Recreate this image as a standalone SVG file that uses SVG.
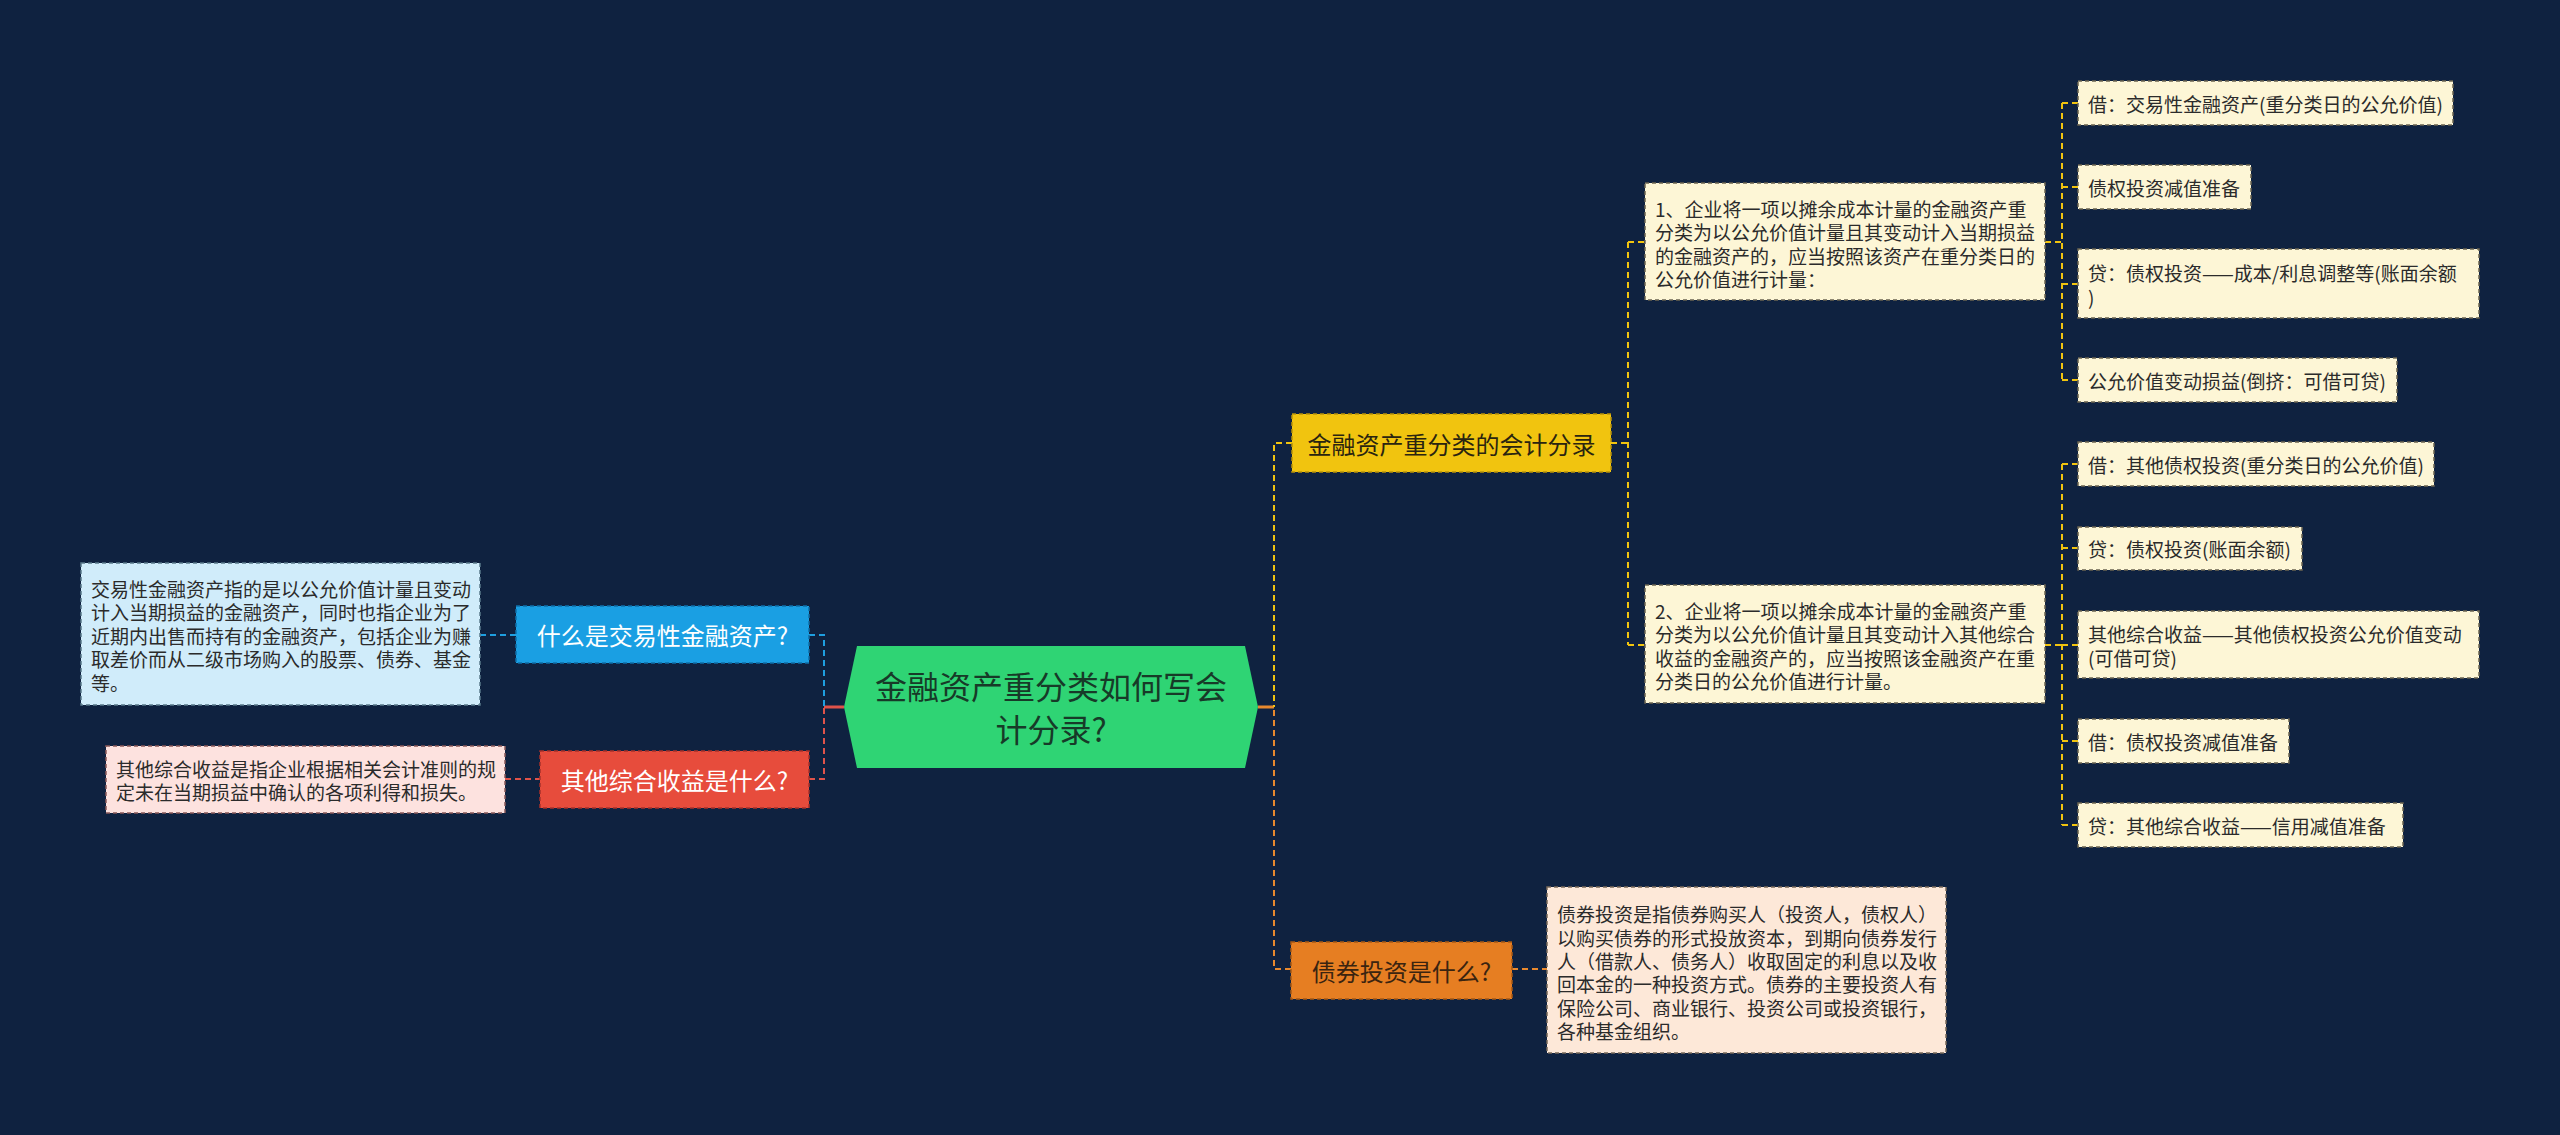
<svg xmlns="http://www.w3.org/2000/svg" width="2560" height="1135" viewBox="0 0 2560 1135">
<defs>
<style>
text{font-family:"Noto Sans CJK SC","Noto Sans",sans-serif;dominant-baseline:central}
.d{font-size:19px;fill:#2b2b2b}
.t{font-size:24px;text-anchor:middle}
.c{fill:none;stroke-width:2;stroke-dasharray:6 4}
.s{fill:none;stroke-width:3}
.cy{stroke:#f1c40f}.co{stroke:#e8892e}.cb{stroke:#1f9fe0}.cr{stroke:#e0534a}
.bx{stroke-width:1.5;stroke-dasharray:4 3}
.cream{fill:#fdf6d6;stroke:#6b6450}
</style>
</defs>
<rect width="2560" height="1135" fill="#0f2240"/>
<g id="connectors">
<path class="s" d="M844,707H824" stroke="#e0534a"/>
<path class="c cb" d="M809,635H824V707"/>
<path class="c cr" d="M809,779H824V707"/>
<path class="c cb" d="M480,635H516"/>
<path class="c cr" d="M505,779H540"/>
<path class="s" d="M1258,707H1274" stroke="#e8892e"/>
<path class="c cy" d="M1292,443H1274V707"/>
<path class="c co" d="M1291,969H1274V707"/>
<path class="c co" d="M1512,969H1547"/>
<path class="c cy" d="M1611,443H1628M1628,242V645M1628,242H1645M1628,645H1645"/>
<path class="c cy" d="M2045,242H2062M2062,103V380M2062,103H2078M2062,187H2078M2062,284H2078M2062,380H2078"/>
<path class="c cy" d="M2045,645H2062M2062,464V825M2062,464H2078M2062,548H2078M2062,645H2078M2062,741H2078M2062,825H2078"/>
</g>
<g id="center">
<polygon points="844,707 857,646 1245,646 1258,707 1245,768 857,768" fill="#2fd474"/>
<text x="1051" y="685" font-size="32" text-anchor="middle" fill="#173a28">金融资产重分类如何写会</text>
<text x="1051" y="728" font-size="32" text-anchor="middle" fill="#173a28">计分录?</text>
</g>
<g id="n-blue">
<rect class="bx" x="516" y="606" width="293" height="57" fill="#1a9fe3" stroke="#0f6fa8"/>
<text class="t" x="662.5" y="634.5" fill="#ffffff">什么是交易性金融资产?</text>
</g>
<g id="n-blue-desc">
<rect class="bx" x="81" y="563" width="399" height="142" fill="#d0ecfa" stroke="#5a7a8a"/>
<text class="d" x="91" y="588">交易性金融资产指的是以公允价值计量且变动</text>
<text class="d" x="91" y="611">计入当期损益的金融资产，同时也指企业为了</text>
<text class="d" x="91" y="635">近期内出售而持有的金融资产，包括企业为赚</text>
<text class="d" x="91" y="658">取差价而从二级市场购入的股票、债券、基金</text>
<text class="d" x="91" y="682">等。</text>
</g>
<g id="n-red">
<rect class="bx" x="540" y="751" width="269" height="57" fill="#e74c3c" stroke="#a8302a"/>
<text class="t" x="674.5" y="779.5" fill="#ffffff">其他综合收益是什么?</text>
</g>
<g id="n-red-desc">
<rect class="bx" x="106" y="746" width="399" height="67" fill="#fde2df" stroke="#8a5a5a"/>
<text class="d" x="116" y="768" fill="#3a1a1a">其他综合收益是指企业根据相关会计准则的规</text>
<text class="d" x="116" y="791" fill="#3a1a1a">定未在当期损益中确认的各项利得和损失。</text>
</g>
<g id="n-yellow">
<rect class="bx" x="1292" y="414" width="319" height="58" fill="#f1c40f" stroke="#b8920a"/>
<text class="t" x="1451.5" y="443" fill="#2a2410">金融资产重分类的会计分录</text>
</g>
<g id="n-orange">
<rect class="bx" x="1291" y="942" width="221" height="57" fill="#e67e22" stroke="#a85a15"/>
<text class="t" x="1401.5" y="970.5" fill="#3a2410">债券投资是什么?</text>
</g>
<g id="n-orange-desc">
<rect class="bx" x="1547" y="887" width="399" height="166" fill="#fde8d8" stroke="#7a6a5a"/>
<text class="d" x="1557" y="913">债券投资是指债券购买人（投资人，债权人）</text>
<text class="d" x="1557" y="937">以购买债券的形式投放资本，到期向债券发行</text>
<text class="d" x="1557" y="960">人（借款人、债务人）收取固定的利息以及收</text>
<text class="d" x="1557" y="983">回本金的一种投资方式。债券的主要投资人有</text>
<text class="d" x="1557" y="1007">保险公司、商业银行、投资公司或投资银行，</text>
<text class="d" x="1557" y="1030">各种基金组织。</text>
</g>
<g id="n-b1">
<rect class="bx cream" x="1645" y="183" width="400" height="117"/>
<text class="d" x="1655" y="208">1、企业将一项以摊余成本计量的金融资产重</text>
<text class="d" x="1655" y="231">分类为以公允价值计量且其变动计入当期损益</text>
<text class="d" x="1655" y="255">的金融资产的，应当按照该资产在重分类日的</text>
<text class="d" x="1655" y="278">公允价值进行计量：</text>
</g>
<g id="n-b2">
<rect class="bx cream" x="1645" y="585" width="400" height="118"/>
<text class="d" x="1655" y="610">2、企业将一项以摊余成本计量的金融资产重</text>
<text class="d" x="1655" y="633">分类为以公允价值计量且其变动计入其他综合</text>
<text class="d" x="1655" y="657">收益的金融资产的，应当按照该金融资产在重</text>
<text class="d" x="1655" y="680">分类日的公允价值进行计量。</text>
</g>
<g id="n-l1"><rect class="bx cream" x="2078" y="81" width="375" height="44"/><text class="d" x="2088" y="103">借：交易性金融资产(重分类日的公允价值)</text></g>
<g id="n-l2"><rect class="bx cream" x="2078" y="165" width="173" height="44"/><text class="d" x="2088" y="187">债权投资减值准备</text></g>
<g id="n-l3"><rect class="bx cream" x="2078" y="249" width="401" height="69"/><text class="d" x="2088" y="272">贷：债权投资——成本/利息调整等(账面余额</text><text class="d" x="2088" y="296">)</text></g>
<g id="n-l4"><rect class="bx cream" x="2078" y="358" width="319" height="44"/><text class="d" x="2088" y="380">公允价值变动损益(倒挤：可借可贷)</text></g>
<g id="n-l5"><rect class="bx cream" x="2078" y="442" width="356" height="44"/><text class="d" x="2088" y="464">借：其他债权投资(重分类日的公允价值)</text></g>
<g id="n-l6"><rect class="bx cream" x="2078" y="527" width="224" height="43"/><text class="d" x="2088" y="548">贷：债权投资(账面余额)</text></g>
<g id="n-l7"><rect class="bx cream" x="2078" y="611" width="401" height="67"/><text class="d" x="2088" y="633">其他综合收益——其他债权投资公允价值变动</text><text class="d" x="2088" y="657">(可借可贷)</text></g>
<g id="n-l8"><rect class="bx cream" x="2078" y="719" width="211" height="44"/><text class="d" x="2088" y="741">借：债权投资减值准备</text></g>
<g id="n-l9"><rect class="bx cream" x="2078" y="803" width="325" height="44"/><text class="d" x="2088" y="825">贷：其他综合收益——信用减值准备</text></g>
</svg>
